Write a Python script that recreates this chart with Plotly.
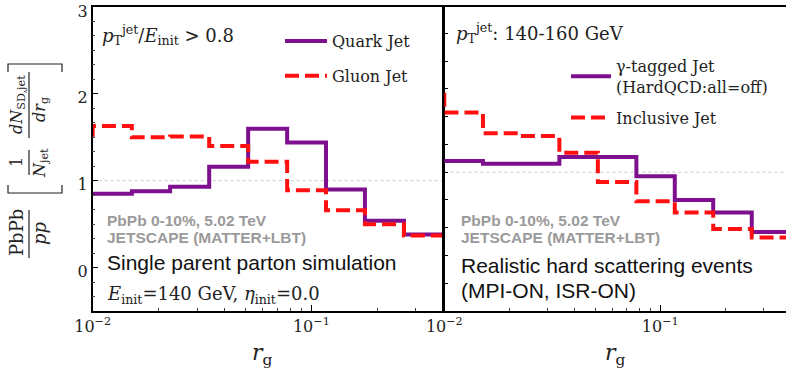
import plotly.graph_objects as go

# ---- data ----
rg_edges = [0.0066, 0.0100, 0.0151, 0.0226, 0.0341, 0.0514, 0.0775, 0.1167, 0.1758, 0.2651, 0.4000]
quark_jet = [0.85, 0.85, 0.88, 0.93, 1.16, 1.60, 1.44, 0.90, 0.54, 0.38]
gluon_jet = [1.50, 1.63, 1.50, 1.51, 1.40, 1.22, 0.89, 0.66, 0.50, 0.37]
gamma_jet = [1.08, 1.08, 1.06, 1.06, 1.11, 1.11, 0.97, 0.80, 0.71, 0.57]
inclusive_jet = [1.58, 1.43, 1.28, 1.26, 1.14, 0.93, 0.79, 0.71, 0.59, 0.53]
x_tickvals = [0.01, 0.1]
x_ticktext = ["10<sup>\u22122</sup>", "10<sup>\u22121</sup>"]
x_minor = [0.02, 0.03, 0.04, 0.05, 0.06, 0.07, 0.08, 0.09, 0.2, 0.3, 0.4]

W, H = 786, 375
PURPLE = "#7e0f8e"
RED = "#ff1010"
SERIF = "DejaVu Serif"
SANS = "Liberation Sans"


def step(vals):
    return vals + [vals[-1]]


def px(x):
    return x / W


def py(y):
    return 1 - y / H


fig = go.Figure()
fig.add_trace(go.Scatter(x=rg_edges, y=step(quark_jet), mode="lines", line_shape="hv",
                         line=dict(color=PURPLE, width=4), name="Quark Jet",
                         xaxis="x", yaxis="y", legend="legend", legendgroup="a"))
fig.add_trace(go.Scatter(x=rg_edges, y=step(gluon_jet), mode="lines", line_shape="hv",
                         line=dict(color=RED, width=4, dash="14px,6px"), name="Gluon Jet",
                         xaxis="x", yaxis="y", legend="legend", legendgroup="b"))
fig.add_trace(go.Scatter(x=rg_edges, y=step(gamma_jet), mode="lines", line_shape="hv",
                         line=dict(color=PURPLE, width=4),
                         name="\u03b3-tagged Jet<br>(HardQCD:all=off)",
                         xaxis="x2", yaxis="y2", legend="legend2", legendgroup="c"))
fig.add_trace(go.Scatter(x=rg_edges, y=step(inclusive_jet), mode="lines", line_shape="hv",
                         line=dict(color=RED, width=4, dash="14px,6px"), name="Inclusive Jet",
                         xaxis="x2", yaxis="y2", legend="legend2", legendgroup="d"))

ydom = [py(311), py(7)]
axis_common = dict(showline=True, linecolor="black", linewidth=1.5, ticks="inside",
                   tickcolor="black", showgrid=False, zeroline=False, automargin=False,
                   ticklabeloverflow="allow",
                   tickfont=dict(family=SERIF, size=16, color="#222"))

fig.update_layout(
    width=W, height=H, margin=dict(l=0, r=0, t=0, b=0, autoexpand=False),
    paper_bgcolor="white", plot_bgcolor="white",
    xaxis=dict(type="log", domain=[px(92.7), px(443)], range=[-2, -0.398], mirror=True,
               tickvals=x_tickvals, ticktext=x_ticktext, ticklen=6,
               minor=dict(tickvals=x_minor, ticks="inside", ticklen=3, tickcolor="#444"),
               anchor="y", **axis_common),
    yaxis=dict(domain=ydom, range=[-0.5, 3.0005], mirror=True, tickvals=[0, 1, 2, 3], ticklen=6,
               ticklabelshift=4,
               minor=dict(dtick=1/6, tick0=0, ticks="inside", ticklen=3, tickcolor="#444"),
               anchor="x", **axis_common),
    xaxis2=dict(type="log", domain=[px(444.3), 1.0], range=[-2, -0.418], mirror=True,
                tickvals=x_tickvals, ticktext=x_ticktext, ticklen=6,
                minor=dict(tickvals=x_minor, ticks="inside", ticklen=3, tickcolor="#444"),
                anchor="y2", **axis_common),
    yaxis2=dict(domain=ydom, range=[0, 2.19], dtick=0.2, ticklen=4, showticklabels=False,
                anchor="x2", **axis_common),
    legend=dict(x=px(280), y=py(24), xanchor="left", yanchor="top",
                bgcolor="rgba(0,0,0,0)", font=dict(family=SERIF, size=16, color="#222"),
                itemwidth=42, tracegroupgap=11),
    legend2=dict(x=px(566), y=py(49), xanchor="left", yanchor="top",
                 bgcolor="rgba(0,0,0,0)", font=dict(family=SERIF, size=16, color="#222"),
                 itemwidth=40, tracegroupgap=7),
)

# reference lines at ratio 1
fig.add_shape(type="line", xref="x domain", yref="y", x0=0, x1=1, y0=1, y1=1,
              line=dict(color="#c8c8c8", width=1, dash="dot"), layer="below")
fig.add_shape(type="line", xref="x2 domain", yref="y2", x0=0, x1=1, y0=1, y1=1,
              line=dict(color="#c8c8c8", width=1, dash="dot"), layer="below")


def ann(text, x, y, size=16, family=SERIF, color="#222", xanchor="left", angle=0):
    fig.add_annotation(text=text, x=px(x), y=py(y), xref="paper", yref="paper",
                       showarrow=False, xanchor=xanchor, yanchor="middle", textangle=angle,
                       font=dict(family=family, size=size, color=color))


# left panel texts
ann("<i>p</i><sub>T</sub><sup>jet</sup>/<i>E</i><sub>init</sub> > 0.8", 100, 35, 18)
ann("<b>PbPb 0-10%, 5.02 TeV</b>", 105, 220, 15.5, SANS, "#9a9a9a")
ann("<b>JETSCAPE (MATTER+LBT)</b>", 105, 237, 15.5, SANS, "#9a9a9a")
ann("Single parent parton simulation", 105, 262, 21, SANS, "#111")
ann("<i>E</i><sub>init</sub>=140 GeV, <i>\u03b7</i><sub>init</sub>=0.0", 105, 295, 18)

# right panel texts
ann("<i>p</i><sub>T</sub><sup>jet</sup>: 140-160 GeV", 454, 33, 18)
ann("<b>PbPb 0-10%, 5.02 TeV</b>", 459, 220, 15.5, SANS, "#9a9a9a")
ann("<b>JETSCAPE (MATTER+LBT)</b>", 459, 237, 15.5, SANS, "#9a9a9a")
ann("Realistic hard scattering events", 459, 265, 21, SANS, "#111")
ann("(MPI-ON, ISR-ON)", 459, 290, 21, SANS, "#111")

# x axis titles
ann("<i>r</i><sub>g</sub>", 262, 354, 22, xanchor="center")
ann("<i>r</i><sub>g</sub>", 615, 354, 22, xanchor="center")

# y axis title built from rotated pieces
ann("PbPb", 17, 233, 18, xanchor="center", angle=-90)
ann("<i>pp</i>", 40, 233, 18, xanchor="center", angle=-90)
ann("1", 17, 162, 16, xanchor="center", angle=-90)
ann("<i>N</i><sub>jet</sub>", 40, 163, 16, xanchor="center", angle=-90)
ann("<i>dN</i><sub>SD,jet</sub>", 17, 105, 16, xanchor="center", angle=-90)
ann("<i>dr</i><sub>g</sub>", 40, 110, 16, xanchor="center", angle=-90)
for (y0, y1) in [(210, 258), (150, 175), (72, 138)]:
    fig.add_shape(type="line", xref="paper", yref="paper", x0=px(29), x1=px(29),
                  y0=py(y0), y1=py(y1), line=dict(color="#222", width=1.2))
# brackets
for yb, d in [(64, 1), (193, -1)]:
    fig.add_shape(type="path", xref="paper", yref="paper",
                  path=f"M {px(8)} {py(yb + 8*d)} L {px(8)} {py(yb)} L {px(62)} {py(yb)} L {px(62)} {py(yb + 8*d)}",
                  line=dict(color="#222", width=1.2))

fig.write_html("out.html", config={"displayModeBar": False},
               post_script="document.body.style.margin='0px';document.body.style.overflow='hidden';")
